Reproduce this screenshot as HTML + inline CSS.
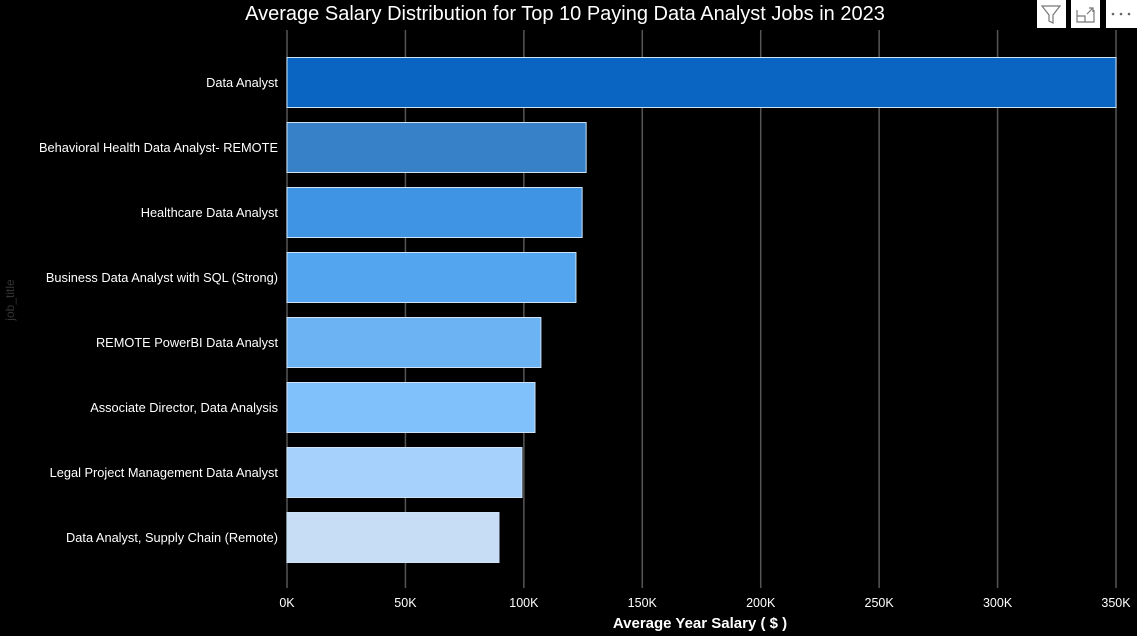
<!DOCTYPE html>
<html><head><meta charset="utf-8"><style>
html,body{margin:0;padding:0;background:#000;width:1137px;height:636px;overflow:hidden;font-family:"Liberation Sans",sans-serif}
svg{display:block}
</style></head><body>
<svg id="chart" width="1137" height="636">
<rect x="0" y="0" width="1137" height="636" fill="#000"/>
<text x="565" y="20" text-anchor="middle" fill="#fff" font-size="20">Average Salary Distribution for Top 10 Paying Data Analyst Jobs in 2023</text>
<g><rect x="1037" y="0" width="29" height="28" fill="#fff"/><path d="M1042 6 H1060 L1053 15 V23 L1049 21 V15 Z" fill="none" stroke="#777" stroke-width="1.2"/></g>
<g><rect x="1071" y="0" width="29" height="28" fill="#fff"/><path d="M1077 10 V22 H1094 V10 M1077 16 H1085 V22 M1087 14 L1093 8 M1089 8 H1093 V12" fill="none" stroke="#777" stroke-width="1.2"/></g>
<g><rect x="1106" y="0" width="31" height="28" fill="#fff"/><circle cx="1113" cy="14" r="1.3" fill="#666"/><circle cx="1121" cy="14" r="1.3" fill="#666"/><circle cx="1129" cy="14" r="1.3" fill="#666"/></g>
<g id="grid"></g><g id="bars"></g><g id="ylabels"></g><g id="xticks"></g>
<text x="700" y="628" text-anchor="middle" fill="#fff" font-size="15" font-weight="bold">Average Year Salary ( $ )</text>
<text transform="translate(14,300) rotate(-90)" text-anchor="middle" fill="#333" font-size="12">job_title</text>
</svg>
<script>
const categories=["Data Analyst","Behavioral Health Data Analyst- REMOTE","Healthcare Data Analyst","Business Data Analyst with SQL (Strong)","REMOTE PowerBI Data Analyst","Associate Director, Data Analysis","Legal Project Management Data Analyst","Data Analyst, Supply Chain (Remote)"];
const salaries=[350000,126300,124600,122000,107200,104700,99200,89500];
const tickValues=[0,50000,100000,150000,200000,250000,300000,350000];
const tickLabels=["0K","50K","100K","150K","200K","250K","300K","350K"];
const colors=["#0a64c1","#3781c9","#3f95e3","#52a5ee","#6bb3f3","#80c0fb","#a5d1fc","#c6ddf5"];
const NS="http://www.w3.org/2000/svg";
const x0=287,x1=1116,xMax=350000;
const xs=v=>x0+(x1-x0)*v/xMax;
const yTop=50,band=65,barH=50;
const ys=i=>yTop+i*band+(band-barH)/2;
function mk(t,a,p){const e=document.createElementNS(NS,t);for(const k in a)e.setAttribute(k,a[k]);p.appendChild(e);return e;}
const grid=document.getElementById('grid'),bars=document.getElementById('bars'),yl=document.getElementById('ylabels'),xt=document.getElementById('xticks');
tickValues.forEach((v,i)=>{
  const l=mk('line',{x1:xs(v),x2:xs(v),y1:30,y2:588,stroke:'#555','stroke-width':1.5},grid);
  
  
  const t=mk('text',{x:xs(v),y:607,'text-anchor':'middle',fill:'#fff','font-size':12.5},xt);
  t.textContent=tickLabels[i];
  
  
});
categories.forEach((c,i)=>{
  const r=mk('rect',{x:x0,y:ys(i),width:xs(salaries[i])-x0,height:barH,fill:colors[i],stroke:'#cfe3f7','stroke-width':1},bars);
  
  
  const t=mk('text',{x:278,y:ys(i)+barH/2+4.5,'text-anchor':'end',fill:'#fff','font-size':12.8},yl);
  t.textContent=c;
  
  
});
</script>
</body></html>
